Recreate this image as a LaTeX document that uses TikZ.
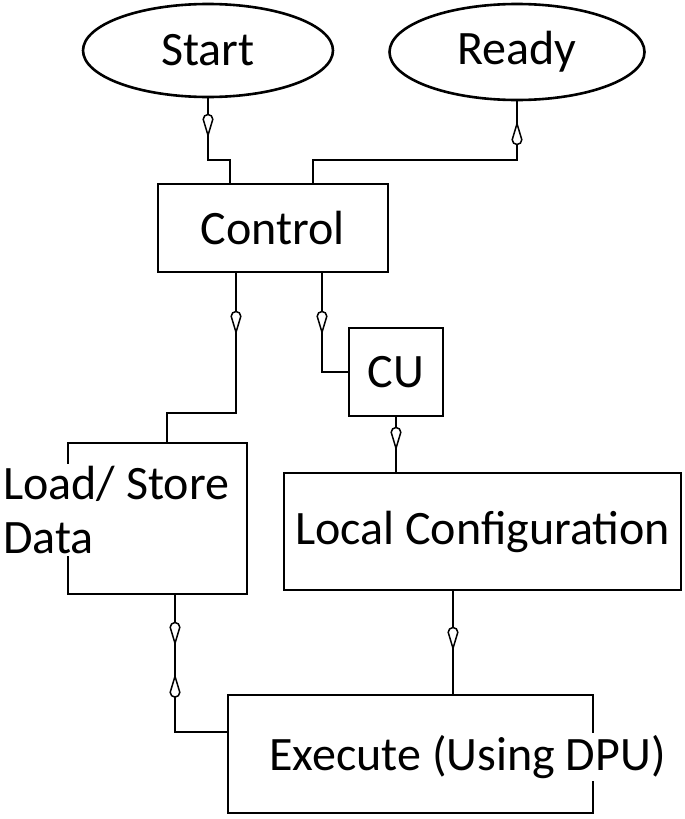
\documentclass[tikz,border=0pt]{standalone}
\usepackage{fontspec}
\setmainfont{Carlito}
\usetikzlibrary{shapes.geometric,decorations.markings}
\newcommand\teardropfwd{\filldraw[fill=white,draw=black,line width=1.5pt] (10pt,0pt) -- (-6pt,4.8pt) arc[start angle=90,end angle=270,radius=4.8pt] -- cycle;}
\newcommand\teardropback{\filldraw[fill=white,draw=black,line width=1.5pt] (-10pt,0pt) -- (6pt,4.8pt) arc[start angle=90,end angle=-90,radius=4.8pt] -- cycle;}
\tikzset{
  wire/.style={line width=2.6pt,line join=miter},
  midtip/.style={postaction={decorate,decoration={markings,mark=at position #1 with {\teardropfwd}}}},
  midtipback/.style={postaction={decorate,decoration={markings,mark=at position #1 with {\teardropback}}}},
  txt/.style={font=\fontsize{48}{54}\selectfont},
  boxx/.style={draw,line width=2.6pt,inner sep=0pt},
  oval/.style={ellipse,draw,line width=2.6pt,inner sep=0pt},
}
\begin{document}
\begin{tikzpicture}[x=1pt,y=-1pt]
\useasboundingbox (0,0) rectangle (685,819);
% nodes
\node[oval,txt,minimum width=250,minimum height=93] (start) at (208,50.5) {Start};
\node[oval,txt,minimum width=255,minimum height=96] (ready) at (517,52) {Ready};
\node[boxx,txt,minimum width=230,minimum height=88] (control) at (273,228) {Control};
\node[boxx,txt,minimum width=94,minimum height=88] (cu) at (396,372) {CU};
\node[boxx,txt,minimum width=397,minimum height=117] (local) at (482.5,531.5) {Local Configuration};
\node[boxx,minimum width=179,minimum height=151] (load) at (157.5,518.5) {};
\node[txt,fill=white,align=left,anchor=west,inner sep=2pt] (loadtext) at (1,510) {Load/ Store\\Data};
\node[boxx,minimum width=365,minimum height=118] (exec) at (410.5,754) {};
\node[txt,fill=white,inner sep=2pt] (exectext) at (467.5,757) {Execute (Using DPU)};
% bend points
\coordinate (c1) at (230,160);
\coordinate (c2) at (313,160);
\coordinate (c3) at (236,413);
\coordinate (c4) at (167,413);
\coordinate (c5) at (322,372);
\coordinate (c6) at (453,600);
\coordinate (c7) at (175,732);
% connectors
\draw[wire,midtip=27pt] (start.south) |- (c1) -- (c1 |- control.north);
\draw[wire,midtip=253pt] (c2 |- control.north) -- (c2) -| (ready.south);
\draw[wire,midtip=49pt] (c3 |- control.south) -- (c3) -- (c4) -- (c4 |- load.north);
\draw[wire,midtip=49pt] (c5 |- control.south) -- (c5) -- (cu.west);
\draw[wire,midtip=21pt] (cu.south) -- (cu.south |- local.north);
\draw[wire,midtip=47pt] (c6 |- local.south) -- (c6 |- exec.north);
\draw[wire,midtip=38pt,midtipback=91pt] (c7 |- load.south) -- (c7) -- (c7 -| exec.west);
\end{tikzpicture}
\end{document}
